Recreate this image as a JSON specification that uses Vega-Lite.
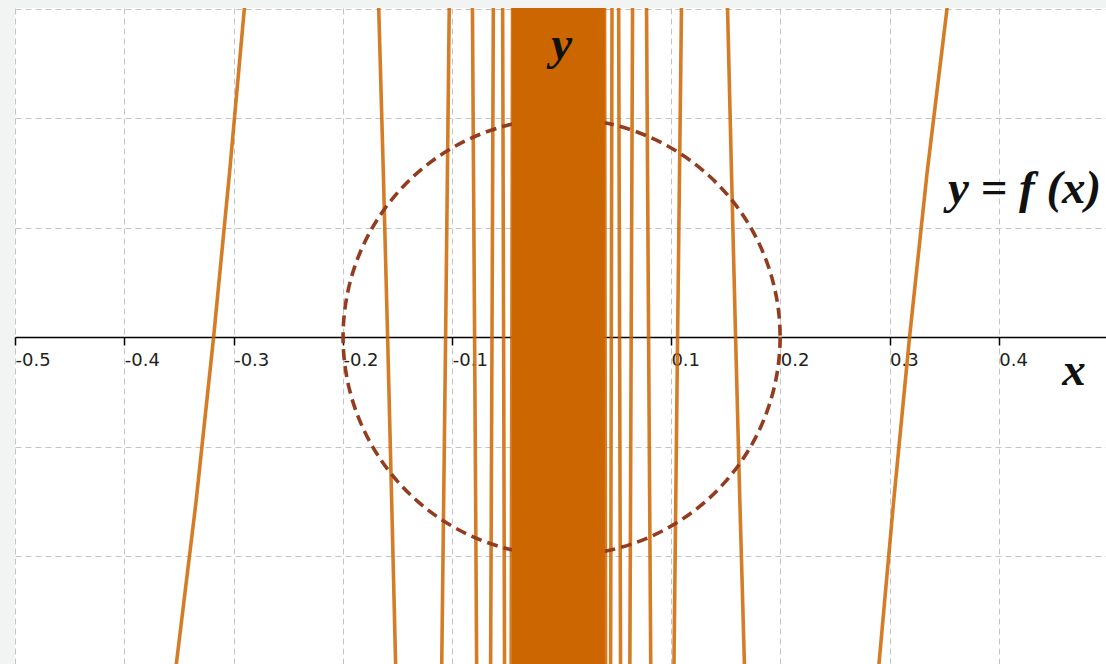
{
  "$schema": "https://vega.github.io/schema/vega-lite/v6.json",
  "width": 1091,
  "height": 656,
  "autosize": {"type": "none"},
  "padding": {"left": 15, "top": 8, "right": 0, "bottom": 0},
  "background": "#f2f4f4",
  "config": {"view": {"fill": "#ffffff", "stroke": null}},
  "datasets": {
    "curve": [
      {"seg": "p1", "x": 0.35381, "y": 0.31}, {"seg": "p1", "x": 0.33433, "y": 0.15}, {"seg": "p1", "x": 0.31831, "y": 0}, {"seg": "p1", "x": 0.30375, "y": -0.15}, {"seg": "p1", "x": 0.28929, "y": -0.31},
      {"seg": "p2", "x": 0.15155, "y": 0.31}, {"seg": "p2", "x": 0.15543, "y": 0.15}, {"seg": "p2", "x": 0.159155, "y": 0}, {"seg": "p2", "x": 0.163062, "y": -0.15}, {"seg": "p2", "x": 0.16756, "y": -0.31},
      {"seg": "p3", "x": 0.109775, "y": 0.31}, {"seg": "p3", "x": 0.106103, "y": 0}, {"seg": "p3", "x": 0.10267, "y": -0.31},
      {"seg": "p4", "x": 0.07763, "y": 0.31}, {"seg": "p4", "x": 0.079577, "y": 0}, {"seg": "p4", "x": 0.0816245, "y": -0.31},
      {"seg": "p5", "x": 0.064966, "y": 0.31}, {"seg": "p5", "x": 0.063662, "y": 0}, {"seg": "p5", "x": 0.06241, "y": -0.31},
      {"seg": "p6", "x": 0.052179, "y": 0.31}, {"seg": "p6", "x": 0.053052, "y": 0}, {"seg": "p6", "x": 0.053954, "y": -0.31},
      {"seg": "p7", "x": 0.046134, "y": 0.31}, {"seg": "p7", "x": 0.045473, "y": 0}, {"seg": "p7", "x": 0.0448305, "y": -0.31},
      {"seg": "p8", "x": 0.039296, "y": 0.31}, {"seg": "p8", "x": 0.039789, "y": 0}, {"seg": "p8", "x": 0.040294, "y": -0.31},
      {"seg": "m1", "x": -0.35381, "y": -0.31}, {"seg": "m1", "x": -0.33433, "y": -0.15}, {"seg": "m1", "x": -0.31831, "y": 0}, {"seg": "m1", "x": -0.30375, "y": 0.15}, {"seg": "m1", "x": -0.28929, "y": 0.31},
      {"seg": "m2", "x": -0.15155, "y": -0.31}, {"seg": "m2", "x": -0.15543, "y": -0.15}, {"seg": "m2", "x": -0.159155, "y": 0}, {"seg": "m2", "x": -0.163062, "y": 0.15}, {"seg": "m2", "x": -0.16756, "y": 0.31},
      {"seg": "m3", "x": -0.109775, "y": -0.31}, {"seg": "m3", "x": -0.106103, "y": 0}, {"seg": "m3", "x": -0.10267, "y": 0.31},
      {"seg": "m4", "x": -0.07763, "y": -0.31}, {"seg": "m4", "x": -0.079577, "y": 0}, {"seg": "m4", "x": -0.0816245, "y": 0.31},
      {"seg": "m5", "x": -0.064966, "y": -0.31}, {"seg": "m5", "x": -0.063662, "y": 0}, {"seg": "m5", "x": -0.06241, "y": 0.31},
      {"seg": "m6", "x": -0.052179, "y": -0.31}, {"seg": "m6", "x": -0.053052, "y": 0}, {"seg": "m6", "x": -0.053954, "y": 0.31},
      {"seg": "m7", "x": -0.046134, "y": -0.31}, {"seg": "m7", "x": -0.045473, "y": 0}, {"seg": "m7", "x": -0.0448305, "y": 0.31},
      {"seg": "m8", "x": -0.039296, "y": -0.31}, {"seg": "m8", "x": -0.039789, "y": 0}, {"seg": "m8", "x": -0.040294, "y": 0.31}
    ],
    "circle": [{"x": 0, "y": 0}],
    "band": [{"x1": -0.0455, "x2": 0.0395}],
    "labels": [
      {"label": "y", "x": 0, "y": 0.254},
      {"label": "y = f (x)", "x": 0.4235, "y": 0.1224},
      {"label": "x", "x": 0.4688, "y": -0.0438}
    ]
  },
  "layer": [
    {
      "data": {"name": "curve"},
      "mark": {"type": "line", "clip": true, "color": "#cc6600", "strokeWidth": 3.6, "opacity": 0.85},
      "encoding": {
        "x": {
          "field": "x", "type": "quantitative",
          "scale": {"domain": [-0.5, 0.498], "nice": false, "zero": false},
          "axis": {
            "orient": "bottom", "offset": -327,
            "values": [-0.5, -0.4, -0.3, -0.2, -0.1, 0, 0.1, 0.2, 0.3, 0.4],
            "grid": true, "gridColor": "#c4c4c4", "gridDash": [6, 4], "gridWidth": 1,
            "domainColor": "#000000", "domainWidth": 1.5,
            "tickColor": "#000000", "tickSize": 8, "tickWidth": 1.5,
            "labelAlign": "left", "labelBaseline": "top", "labelPadding": 6,
            "labelFont": "DejaVu Sans", "labelFontSize": 18, "labelColor": "#222222",
            "labelExpr": "datum.value < 0 ? '-' + format(-datum.value, '.1f') : format(datum.value, '.1f')",
            "labelOverlap": false, "labelFlush": false, "labelBound": false,
            "title": null
          }
        },
        "y": {
          "field": "y", "type": "quantitative",
          "scale": {"domain": [-0.2986, 0.3005], "nice": false, "zero": false},
          "axis": {
            "orient": "left",
            "values": [-0.3, -0.2, -0.1, 0.1, 0.2, 0.3],
            "grid": true, "gridColor": "#c4c4c4", "gridDash": [6, 4], "gridWidth": 1,
            "domain": false, "ticks": false, "labels": false, "title": null
          }
        },
        "detail": {"field": "seg"}
      }
    },
    {
      "data": {"name": "circle"},
      "mark": {"type": "point", "shape": "circle", "filled": false, "stroke": "#923d1f", "strokeWidth": 3.6, "strokeDash": [11, 6], "size": 191000, "opacity": 1},
      "encoding": {
        "x": {"field": "x", "type": "quantitative"},
        "y": {"field": "y", "type": "quantitative"}
      }
    },
    {
      "data": {"name": "band"},
      "mark": {"type": "rect", "color": "#cc6600"},
      "encoding": {
        "x": {"field": "x1", "type": "quantitative"},
        "x2": {"field": "x2"}
      }
    },
    {
      "data": {"name": "labels"},
      "mark": {"type": "text", "font": "Liberation Serif", "fontStyle": "italic", "fontWeight": "bold", "fontSize": 47, "color": "#111111", "baseline": "alphabetic", "align": "center"},
      "encoding": {
        "x": {"field": "x", "type": "quantitative"},
        "y": {"field": "y", "type": "quantitative"},
        "text": {"field": "label"}
      }
    }
  ]
}
